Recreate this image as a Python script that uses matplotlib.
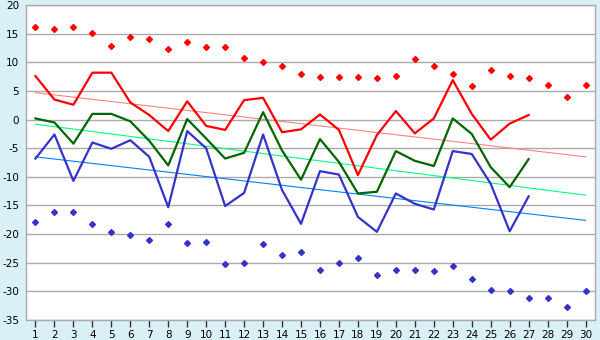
import numpy as np
import matplotlib
matplotlib.use("Agg")
import matplotlib.pyplot as plt

days = list(range(1, 31))

# daily series (days 1..27)
high = [7.6, 3.5, 2.6, 8.2, 8.2, 3.0, 0.8, -2.0, 3.2, -1.1, -1.8, 3.4, 3.8, -2.2, -1.7,
        0.9, -1.8, -9.7, -2.7, 1.5, -2.4, 0.2, 6.9, 1.0, -3.5, -0.7, 0.8]
mean = [0.2, -0.5, -4.2, 1.0, 1.0, -0.3, -3.7, -8.0, 0.1, -3.3, -6.8, -5.8, 1.3, -5.4, -10.5,
        -3.4, -7.4, -12.9, -12.6, -5.5, -7.2, -8.1, 0.2, -2.5, -8.3, -11.8, -6.9]
low = [-6.8, -2.6, -10.7, -4.0, -5.1, -3.6, -6.5, -15.3, -2.0, -5.0, -15.1, -12.8, -2.6, -12.3, -18.2,
       -9.0, -9.6, -17.0, -19.6, -12.9, -14.7, -15.7, -5.5, -6.0, -11.2, -19.5, -13.4]

# record extremes for each day of the month
rec_high = [16.1, 15.9, 16.1, 15.2, 12.9, 14.5, 14.1, 12.4, 13.6, 12.7, 12.6, 10.7, 10.0, 9.4, 8.0,
            7.5, 7.5, 7.5, 7.3, 7.7, 10.5, 9.3, 8.0, 5.8, 8.7, 7.7, 7.2, 6.1, 3.9, 6.1]
rec_low = [-17.8, -16.2, -16.2, -18.2, -19.7, -20.1, -21.1, -18.3, -21.5, -21.3, -25.3, -25.0, -21.8,
           -23.7, -23.2, -26.2, -25.0, -24.1, -27.2, -26.2, -26.2, -26.4, -25.5, -27.9, -29.7, -30.0,
           -31.1, -31.1, -32.7, -29.9]

# normals: value on day 1 and day 30
trend_high = [4.7, -6.5]
trend_mean = [-0.8, -13.2]
trend_low = [-6.5, -17.6]

plt.rcParams["axes.unicode_minus"] = False

bg = "#daf0f7"
fig = plt.figure(figsize=(6, 3.4), dpi=100, facecolor=bg)
ax = fig.add_axes([0.0433, 0.0588, 0.9484, 0.9262])
ax.set_facecolor("white")

x = days[:len(high)]
ends = [days[0], days[-1]]
ax.plot(ends, trend_high, color="#ff8080", lw=0.8, zorder=2)
ax.plot(ends, trend_mean, color="#00ff80", lw=0.8, zorder=2)
ax.plot(ends, trend_low, color="#0080ff", lw=0.8, zorder=2)

ax.plot(x, high, color="#ff0000", lw=1.6, zorder=3)
ax.plot(x, mean, color="#006600", lw=1.6, zorder=3)
ax.plot(x, low, color="#3333cc", lw=1.6, zorder=3)

ax.plot(days, rec_high, ls="none", marker="D", ms=3, color="#ff0000", zorder=4)
ax.plot(days, rec_low, ls="none", marker="D", ms=3, color="#3333cc", zorder=4)

ax.set_xlim(0.5, 30.5)
ax.set_ylim(-35, 20)
ax.set_xticks(days)
ax.set_yticks(range(-35, 21, 5))
ax.yaxis.grid(True, color="#aaaaaa", lw=1)
ax.set_axisbelow(True)
for s in ax.spines.values():
    s.set_color("#aaaaaa")
    s.set_linewidth(1)
ax.tick_params(axis="x", length=5, width=1, color="#333333", labelsize=7.5, pad=2)
ax.tick_params(axis="y", length=0, labelsize=7.5, pad=5)

fig.savefig("out.png", dpi=100, facecolor=bg)
